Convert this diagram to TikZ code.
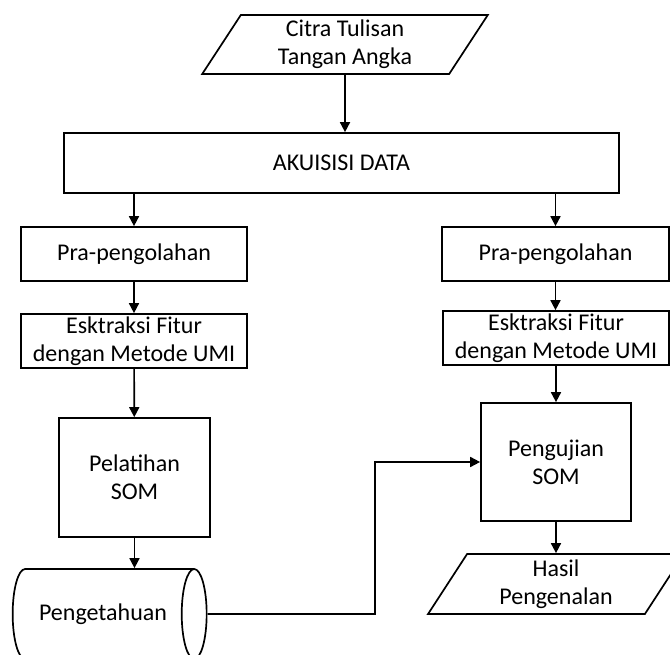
\documentclass[tikz,border=0pt]{standalone}
\usepackage{fontspec}
\setmainfont{Carlito}
\usetikzlibrary{shapes.geometric,arrows.meta}

\begin{document}
\begin{tikzpicture}[x=1pt, y=-1pt,
    every node/.style={font=\fontsize{24}{28}\selectfont, align=center, line width=1.7pt, inner sep=0pt},
    kotak/.style={draw, rectangle},
    masukan/.style={draw, trapezium, trapezium left angle=63, trapezium right angle=117,
        trapezium stretches=true},
    panah/.style={-{Triangle[length=10pt,width=10pt]}, line width=1.7pt}]
    % Batas gambar
    \useasboundingbox (0,0) rectangle (670,655);
    \clip (0,0) rectangle (670,655);

    % Masukan dan akuisisi
    \node[masukan, minimum width=286, minimum height=59] (citra) at (345,44.5) {Citra Tulisan\\Tangan Angka};
    \node[kotak, minimum width=555, minimum height=60] (akuisisi) at (341.5,163) {AKUISISI DATA};

    % Jalur pelatihan (kiri)
    \node[kotak, minimum width=226, minimum height=54] (praL) at (134,254) {Pra-pengolahan};
    \node[kotak, minimum width=226, minimum height=54] (ekstL) at (134,341) {Esktraksi Fitur\\dengan Metode UMI};
    \node[kotak, minimum width=151, minimum height=119] (latih) at (134.5,477.5) {Pelatihan\\SOM};
    \node[draw, cylinder, aspect=1.2, minimum width=90, minimum height=194] (tahu) at (103,614) {Pengetahuan};

    % Jalur pengujian (kanan)
    \node[kotak, minimum width=227, minimum height=54] (praR) at (555.5,254) {Pra-pengolahan};
    \node[kotak, minimum width=226, minimum height=54] (ekstR) at (556,338) {Esktraksi Fitur\\dengan Metode UMI};
    \node[kotak, minimum width=150, minimum height=118] (uji) at (556,462) {Pengujian\\SOM};
    \node[masukan, minimum width=256, minimum height=60] (hasil) at (556,584) {Hasil\\Pengenalan};

    \coordinate (belok) at (375,0);

    % Panah
    \draw[panah] (citra.south) -- (citra.south |- akuisisi.north);
    \draw[panah] (praL.north |- akuisisi.south) -- (praL.north);
    \draw[panah] (praR.north |- akuisisi.south) -- (praR.north);
    \draw[panah] (praL) -- (ekstL);
    \draw[panah] (praR.south) -- (praR.south |- ekstR.north);
    \draw[panah] (ekstL) -- (latih);
    \draw[panah] (ekstR) -- (uji);
    \draw[panah] (latih) -- (latih.south |- tahu.north);
    \draw[panah] (uji) -- (hasil);
    \draw[panah] (tahu.east) -| (belok |- uji.west) -- (uji.west);
\end{tikzpicture}
\end{document}
